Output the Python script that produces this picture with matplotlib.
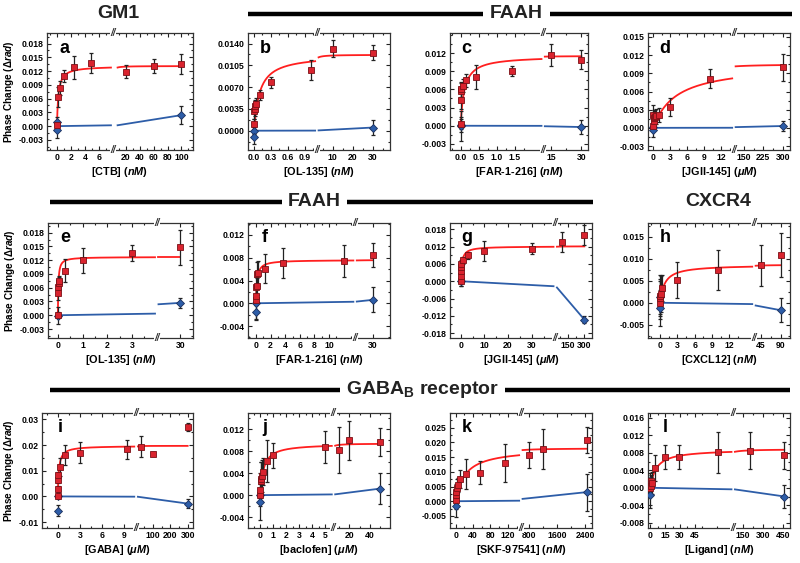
import numpy as np
import matplotlib
matplotlib.use('Agg')
import matplotlib.pyplot as plt
from matplotlib.ticker import FixedLocator, AutoMinorLocator, FormatStrFormatter
from matplotlib.lines import Line2D

plt.rcParams['font.family'] = ['Liberation Sans', 'DejaVu Sans']
plt.rcParams['font.weight'] = 'bold'
plt.rcParams['mathtext.fontset'] = 'custom'
plt.rcParams['mathtext.rm'] = 'Liberation Sans:bold'
plt.rcParams['mathtext.it'] = 'Liberation Sans:italic:bold'
plt.rcParams['mathtext.bf'] = 'Liberation Sans:bold'
plt.rcParams['axes.linewidth'] = 0.9
plt.rcParams['axes.unicode_minus'] = False

# ---------------- data ----------------
# a  GM1 / CTB
a_x = [0, 0.19, 0.47, 0.94, 2.35, 4.8, 20, 60, 100]
a_y = [0.0003, 0.0063, 0.0083, 0.0110, 0.0128, 0.0137, 0.0119, 0.0131, 0.0135]
a_e = [0.0006, 0.0022, 0.0016, 0.0013, 0.0025, 0.0022, 0.0015, 0.0016, 0.0022]
a_bx = [0, 0, 100]
a_by = [0.0008, -0.0008, 0.0024]
a_be = [0.0012, 0.0018, 0.0020]
a_fit = [0.0131, 0.2]
a_slope = 2.4e-5

# b  FAAH / OL-135
b_x = [0, 0.005, 0.01, 0.02, 0.03, 0.1, 0.3, 1.0, 10, 30]
b_y = [0.0011, 0.0031, 0.0035, 0.0039, 0.0043, 0.0057, 0.0078, 0.0098, 0.0132, 0.0125]
b_e = [0.0008, 0.0012, 0.0012, 0.0010, 0.0010, 0.0008, 0.0009, 0.0016, 0.0013, 0.0012]
b_bx = [0, 0, 30]
b_by = [0.0, -0.0010, 0.0005]
b_be = [0.0006, 0.0012, 0.0012]
b_fit = [0.0122, 0.1]
b_slope = 1.7e-5

# c  FAAH / FAR-1-216
c_x = [0, 0.005, 0.01, 0.02, 0.07, 0.15, 0.42, 1.41, 15, 30]
c_y = [0.0003, 0.0042, 0.0058, 0.0060, 0.0066, 0.0075, 0.0081, 0.0090, 0.0117, 0.0109]
c_e = [0.0008, 0.0015, 0.0013, 0.0012, 0.0011, 0.0011, 0.0020, 0.0008, 0.0018, 0.0016]
c_bx = [0, 0, 30]
c_by = [0.0002, 0.0, -0.0002]
c_be = [0.0012, 0.0025, 0.0012]
c_fit = [0.0115, 0.1]
c_slope = -7e-6

# d  FAAH / JGII-145
d_x = [0, 0.01, 0.03, 0.1, 0.3, 0.5, 1, 3, 10, 300]
d_y = [0.0003, 0.0022, 0.0012, 0.0016, 0.0018, 0.0019, 0.0021, 0.0034, 0.0081, 0.0100]
d_e = [0.0008, 0.0015, 0.0014, 0.0013, 0.0012, 0.0012, 0.0012, 0.0015, 0.0016, 0.0022]
d_bx = [0, 0, 300]
d_by = [0.0002, -0.0003, 0.0003]
d_be = [0.0008, 0.0012, 0.0008]
d_fit = [0.0105, 4.0]
d_slope = 1e-6

# e  FAAH / OL-135
e_x = [0, 0.005, 0.01, 0.03, 0.05, 0.3, 1, 3, 30]
e_y = [0.0001, 0.0048, 0.0062, 0.0070, 0.0074, 0.0097, 0.0120, 0.0135, 0.0148]
e_e = [0.0006, 0.0015, 0.0015, 0.0013, 0.0012, 0.0025, 0.0027, 0.0017, 0.0038]
e_bx = [0, 30]
e_by = [-0.0001, 0.0027]
e_be = [0.0018, 0.0011]
e_fit = [0.0127, 0.02]
e_slope = 9e-5

# f  FAAH / FAR-1-216
f_x = [0, 0.01, 0.03, 0.1, 0.2, 0.3, 1.3, 3.7, 12, 30]
f_y = [0.0005, 0.0013, 0.0028, 0.0030, 0.0052, 0.0053, 0.0061, 0.0071, 0.0074, 0.0084]
f_e = [0.0008, 0.0015, 0.0018, 0.0015, 0.0020, 0.0022, 0.0025, 0.0026, 0.0028, 0.0021]
f_bx = [0, 0, 30]
f_by = [0.0, -0.0015, 0.0006]
f_be = [0.0030, 0.0012, 0.0022]
f_fit = [0.0076, 0.15]
f_slope = 2e-5

# g  FAAH / JGII-145
g_x = [0, 0.01, 0.03, 0.1, 0.3, 1, 3, 10, 30, 100, 300]
g_y = [0.0, 0.0018, 0.0035, 0.0050, 0.0060, 0.0073, 0.0090, 0.0104, 0.0113, 0.0137, 0.0159]
g_e = [0.0015, 0.0015, 0.0015, 0.0015, 0.0015, 0.0012, 0.0012, 0.0035, 0.0018, 0.0035, 0.0035]
g_bx = [0, 300]
g_by = [0.0, -0.0133]
g_be = [0.0015, 0.0012]
g_fit = [0.0121, 0.5]
g_slope = -4.43e-5

# h  CXCR4 / CXCL12
h_x = [0, 0.01, 0.03, 0.1, 0.3, 3, 10, 45, 90]
h_y = [0.0, 0.0010, 0.0015, 0.0020, 0.0033, 0.0052, 0.0074, 0.0085, 0.0108]
h_e = [0.0004, 0.0040, 0.0040, 0.0040, 0.0030, 0.0041, 0.0046, 0.0046, 0.0050]
h_bx = [0, 0, 90]
h_by = [0.0012, -0.0012, -0.0017]
h_be = [0.0050, 0.0040, 0.0027]
h_fit = [0.0086, 0.8]
h_slope = -1.9e-5

# i  GABA-B / GABA
i_x = [0, 0.01, 0.03, 0.1, 0.3, 1, 3, 9.5, 30, 100, 300]
i_y = [0.0, 0.0029, 0.0063, 0.0083, 0.0114, 0.0162, 0.0171, 0.0183, 0.0194, 0.0164, 0.0271]
i_e = [0.0005, 0.0010, 0.0010, 0.0012, 0.0035, 0.0038, 0.0042, 0.0037, 0.0042, 0.0008, 0.0015]
i_bx = [0, 0, 300]
i_by = [0.0, -0.0055, -0.0028]
i_be = [0.0005, 0.0022, 0.0018]
i_fit = [0.0197, 0.15]
i_slope = -9.3e-6

# j  GABA-B / baclofen
j_x = [0, 0.01, 0.03, 0.05, 0.1, 0.2, 0.5, 1, 5, 10, 20, 50]
j_y = [0.0, 0.0010, 0.0025, 0.0030, 0.0035, 0.0043, 0.0062, 0.0073, 0.0088, 0.0083, 0.0100, 0.0097]
j_e = [0.0006, 0.0030, 0.0035, 0.0030, 0.0030, 0.0025, 0.0038, 0.0023, 0.0030, 0.0042, 0.0035, 0.0026]
j_bx = [0, 0, 50]
j_by = [0.0, -0.0013, 0.0012]
j_be = [0.0005, 0.0033, 0.0028]
j_fit = [0.0094, 0.25]
j_slope = 2.4e-5

# k  GABA-B / SKF-97541
k_x = [0, 1, 2, 3, 5, 10, 25, 55, 113, 800, 1200, 2450]
k_y = [0.0005, 0.0020, 0.0030, 0.0045, 0.0055, 0.0075, 0.0092, 0.0097, 0.0130, 0.0157, 0.0179, 0.0208]
k_e = [0.0030, 0.0030, 0.0030, 0.0030, 0.0025, 0.0030, 0.0052, 0.0040, 0.0063, 0.0045, 0.0068, 0.0043]
k_bx = [0, 2450]
k_by = [-0.0015, 0.0031]
k_be = [0.0040, 0.0063]
k_fit = [0.0180, 22]
k_slope = 1.27e-6

# l  GABA-B / Ligand
l_x = [0, 0.5, 1, 2, 4.4, 15, 29, 69, 200, 462]
l_y = [0.0, 0.0015, 0.0005, 0.0010, 0.0045, 0.0070, 0.0071, 0.0081, 0.0085, 0.0074]
l_e = [0.0010, 0.0015, 0.0020, 0.0025, 0.0030, 0.0027, 0.0027, 0.0047, 0.0042, 0.0030]
l_bx = [0, 0, 462]
l_by = [0.0015, -0.0017, -0.0020]
l_be = [0.0018, 0.0030, 0.0026]
l_fit = [0.0088, 6]
l_slope = -4.3e-6

# tick values
a_xt = [0, 2, 4, 6, 20, 40, 60, 80, 100]
b_xt = [0.0, 0.3, 0.6, 0.9, 10, 20, 30]
c_xt = [0.0, 0.5, 1.0, 1.5, 15, 30]
d_xt = [0, 3, 6, 9, 12, 150, 225, 300]
e_xt = [0, 1, 2, 3, 30]
f_xt = [0, 2, 4, 6, 8, 10, 30]
g_xt = [0, 10, 20, 30, 150, 300]
h_xt = [0, 3, 6, 9, 12, 45, 90]
i_xt = [0, 3, 6, 9, 100, 200, 300]
j_xt = [0, 1, 2, 3, 4, 5, 20, 40]
k_xt = [0, 40, 80, 120, 800, 1600, 2400]
l_xt = [0, 15, 30, 45, 150, 300, 450]

a_yt = [-0.003, 0.0, 0.003, 0.006, 0.009, 0.012, 0.015, 0.018]
b_yt = [0.0, 0.0035, 0.007, 0.0105, 0.014]
c_yt = [-0.003, 0.0, 0.003, 0.006, 0.009, 0.012]
d_yt = [-0.003, 0.0, 0.003, 0.006, 0.009, 0.012, 0.015]
e_yt = [-0.003, 0.0, 0.003, 0.006, 0.009, 0.012, 0.015, 0.018]
f_yt = [-0.004, 0.0, 0.004, 0.008, 0.012]
g_yt = [-0.018, -0.012, -0.006, 0.0, 0.006, 0.012, 0.018]
h_yt = [-0.005, 0.0, 0.005, 0.010, 0.015]
i_yt = [-0.01, 0.0, 0.01, 0.02, 0.03]
j_yt = [-0.004, 0.0, 0.004, 0.008, 0.012]
k_yt = [-0.005, 0.0, 0.005, 0.010, 0.015, 0.020, 0.025]
l_yt = [-0.008, -0.004, 0.0, 0.004, 0.008, 0.012, 0.016]

xlabels = {
    'a': r'[CTB] ($\mathit{nM}$)', 'b': r'[OL-135] ($\mathit{nM}$)',
    'c': r'[FAR-1-216] ($\mathit{nM}$)', 'd': r'[JGII-145] ($\mathit{\mu M}$)',
    'e': r'[OL-135] ($\mathit{nM}$)', 'f': r'[FAR-1-216] ($\mathit{nM}$)',
    'g': r'[JGII-145] ($\mathit{\mu M}$)', 'h': r'[CXCL12] ($\mathit{nM}$)',
    'i': r'[GABA] ($\mathit{\mu M}$)', 'j': r'[baclofen] ($\mathit{\mu M}$)',
    'k': r'[SKF-97541] ($\mathit{nM}$)', 'l': r'[Ligand] ($\mathit{nM}$)',
}

# ---------------- layout ----------------
W, H = 800, 563
# axes box in pixels: left, top, right, bottom
boxes = {
    'a': (47, 33, 193, 150), 'b': (248, 33, 390, 150), 'c': (450, 33, 588, 150), 'd': (648, 33, 790, 150),
    'e': (48, 223, 193, 338), 'f': (248, 223, 390, 338), 'g': (450, 223, 592, 338), 'h': (648, 223, 790, 338),
    'i': (42, 413, 193, 528), 'j': (248, 413, 390, 528), 'k': (450, 413, 592, 528), 'l': (648, 413, 790, 528),
}
# broken x axis: left seg (L0, L1), right seg (R0, R1), break fraction
segs = {
    'a': (-1.41, 7.89, 0.84, 116.8, 0.45),
    'b': (-0.106, 1.112, 2.0, 38.67, 0.485),
    'c': (-0.294, 2.28, 10.83, 33.33, 0.675),
    'd': (-0.947, 14.26, 111.2, 328.4, 0.605),
    'e': (-0.40, 4.01, 26.3, 32.0, 0.75),
    'f': (-1.09, 13.55, 13.55, 46.1, 0.754),
    'g': (-4.5, 39.9, 33.7, 370.4, 0.741),
    'h': (-2.08, 16.24, 29.25, 110.25, 0.746),
    'i': (-2.15, 10.68, 3.85, 330.8, 0.623),
    'j': (-0.95, 5.64, 4.52, 59.35, 0.602),
    'k': (-12.8, 150, 583.5, 2588, 0.499),
    'l': (-2.37, 84.1, 73.7, 505.9, 0.60),
}
ylims = {
    'a': (-0.0052, 0.0203), 'b': (-0.0031, 0.0157), 'c': (-0.0040, 0.0153), 'd': (-0.00366, 0.01566),
    'e': (-0.00496, 0.0201), 'f': (-0.0061, 0.0141), 'g': (-0.0197, 0.0202), 'h': (-0.0080, 0.0181),
    'i': (-0.0123, 0.0325), 'j': (-0.0060, 0.0150), 'k': (-0.0091, 0.0300), 'l': (-0.0092, 0.0171),
}
yfmt = {'b': '%.4f', 'i': '%.2f'}

panels = {
    'a': (a_x, a_y, a_e, a_bx, a_by, a_be, a_fit, a_slope, a_xt, a_yt),
    'b': (b_x, b_y, b_e, b_bx, b_by, b_be, b_fit, b_slope, b_xt, b_yt),
    'c': (c_x, c_y, c_e, c_bx, c_by, c_be, c_fit, c_slope, c_xt, c_yt),
    'd': (d_x, d_y, d_e, d_bx, d_by, d_be, d_fit, d_slope, d_xt, d_yt),
    'e': (e_x, e_y, e_e, e_bx, e_by, e_be, e_fit, e_slope, e_xt, e_yt),
    'f': (f_x, f_y, f_e, f_bx, f_by, f_be, f_fit, f_slope, f_xt, f_yt),
    'g': (g_x, g_y, g_e, g_bx, g_by, g_be, g_fit, g_slope, g_xt, g_yt),
    'h': (h_x, h_y, h_e, h_bx, h_by, h_be, h_fit, h_slope, h_xt, h_yt),
    'i': (i_x, i_y, i_e, i_bx, i_by, i_be, i_fit, i_slope, i_xt, i_yt),
    'j': (j_x, j_y, j_e, j_bx, j_by, j_be, j_fit, j_slope, j_xt, j_yt),
    'k': (k_x, k_y, k_e, k_bx, k_by, k_be, k_fit, k_slope, k_xt, k_yt),
    'l': (l_x, l_y, l_e, l_bx, l_by, l_be, l_fit, l_slope, l_xt, l_yt),
}

RED = '#d9232e'
RED_EDGE = '#7a1016'
FIT_RED = '#ff1f1f'
BLUE = '#2d5da8'
BLUE_EDGE = '#1b2f5c'


def piecewise(L0, L1, R0, R1, b):
    def fwd(x):
        x = np.asarray(x, dtype=float)
        return np.where(x <= L1, (x - L0) / (L1 - L0) * b,
                        b + (x - R0) / (R1 - R0) * (1 - b))

    def inv(p):
        p = np.asarray(p, dtype=float)
        return np.where(p <= b, L0 + p / b * (L1 - L0),
                        R0 + (p - b) / (1 - b) * (R1 - R0))
    return fwd, inv


def fmt_tick(v):
    if isinstance(v, float) and v < 5:
        return '%.1f' % v
    return str(int(v))


fig = plt.figure(figsize=(W / 100, H / 100), dpi=100)

for key, (x, y, e, bx, by, be, fit, slope, xt, yt) in panels.items():
    l, t, r, btm = boxes[key]
    ax = fig.add_axes([l / W, 1 - btm / H, (r - l) / W, (btm - t) / H])
    L0, L1, R0, R1, bf = segs[key]
    fwd, inv = piecewise(L0, L1, R0, R1, bf)
    ax.set_xscale('function', functions=(fwd, inv))

    gap = 0.012
    left_end = float(inv(bf - gap))
    right_start = max(float(inv(bf + gap)), L1 * 1.0001 + 1e-9)
    xmax = max(x)

    # fitted binding curve
    bmax, kd = fit
    xl = np.concatenate([[0], np.geomspace(left_end * 1e-4, left_end, 300)])
    xr = np.linspace(right_start, xmax, 100)
    ax.plot(xl, bmax * xl / (kd + xl), color=FIT_RED, lw=1.3, zorder=2)
    ax.plot(xr, bmax * xr / (kd + xr), color=FIT_RED, lw=1.3, zorder=2)
    # linear control line
    bxl = np.array([0, left_end])
    bxr = np.array([right_start, max(bx)])
    ax.plot(bxl, slope * bxl, color=BLUE, lw=1.3, zorder=2)
    ax.plot(bxr, slope * bxr, color=BLUE, lw=1.3, zorder=2)

    ax.errorbar(bx, by, yerr=be, fmt='none', ecolor='#222222', elinewidth=0.9,
                capsize=1.6, capthick=0.9, zorder=3)
    ax.errorbar(x, y, yerr=e, fmt='none', ecolor='#222222', elinewidth=0.9,
                capsize=1.6, capthick=0.9, zorder=3)
    ax.plot(bx, by, 'D', ms=3.6, mfc=BLUE, mec=BLUE_EDGE, mew=0.6, ls='none', zorder=4)
    ax.plot(x, y, 's', ms=4.2, mfc=RED, mec=RED_EDGE, mew=0.6, ls='none', zorder=5)

    ax.set_xlim(L0, R1)
    ax.set_ylim(*ylims[key])

    ax.xaxis.set_major_locator(FixedLocator(xt))
    ax.set_xticklabels([fmt_tick(v) for v in xt])
    left_t = [v for v in xt if v <= L1]
    right_t = [v for v in xt if v > L1]
    minors = []
    for grp, lo, hi in ((left_t, L0, L1), (right_t, max(L1, R0), R1)):
        if len(grp) > 1:
            step = grp[1] - grp[0]
            m = grp[0] - step / 2
            while m < hi:
                if lo < m < hi:
                    minors.append(m)
                m += step
    ax.xaxis.set_minor_locator(FixedLocator(minors))

    ax.yaxis.set_major_locator(FixedLocator(yt))
    ax.yaxis.set_major_formatter(FormatStrFormatter(yfmt.get(key, '%.3f')))
    ax.yaxis.set_minor_locator(AutoMinorLocator(2))

    ax.tick_params(which='both', direction='in', top=True, right=True, width=0.8,
                   labelsize=6.2, pad=2.5, colors='#222222', labelcolor='black')
    ax.tick_params(which='major', length=3)
    ax.tick_params(which='minor', length=1.7)
    for s in ax.spines.values():
        s.set_color('#333333')

    ax.set_xlabel(xlabels[key], fontsize=7.8, fontweight='bold', labelpad=2)
    if key in ('a', 'e', 'i'):
        ax.set_ylabel(r'Phase Change ($\mathit{\Delta rad}$)', fontsize=7.2,
                      fontweight='bold', labelpad=2)

    ax.text(0.12, 0.87, key, transform=ax.transAxes, fontsize=13, fontweight='bold',
            ha='center', va='center', zorder=6)

    for yy in (0.0, 1.0):
        ax.text(bf, yy, '//', transform=ax.transAxes, fontsize=7, ha='center',
                va='center', color='#333333', zorder=7, fontstyle='italic',
                bbox=dict(fc='white', ec='none', pad=0.2))

# ---------------- group headers ----------------
def hline(x0, x1, ypx):
    fig.add_artist(Line2D([x0 / W, x1 / W], [1 - ypx / H, 1 - ypx / H],
                          transform=fig.transFigure, color='black', lw=3.2,
                          solid_capstyle='butt'))


def header(txt, xpx, ypx):
    fig.text(xpx / W, 1 - ypx / H, txt, ha='center', va='center', fontsize=14,
             fontweight='bold', color='#222222')


header('GM1', 118, 14)
hline(248, 483, 14); hline(550, 792, 14)
header('FAAH', 516, 14)

hline(50, 282, 202); hline(347, 593, 202)
header('FAAH', 314, 202)
header('CXCR4', 718, 202)

hline(50, 340, 390); hline(505, 790, 390)
header(r'GABA$_\mathregular{B}$ receptor', 423, 390)

fig.savefig('out.png', dpi=100)
